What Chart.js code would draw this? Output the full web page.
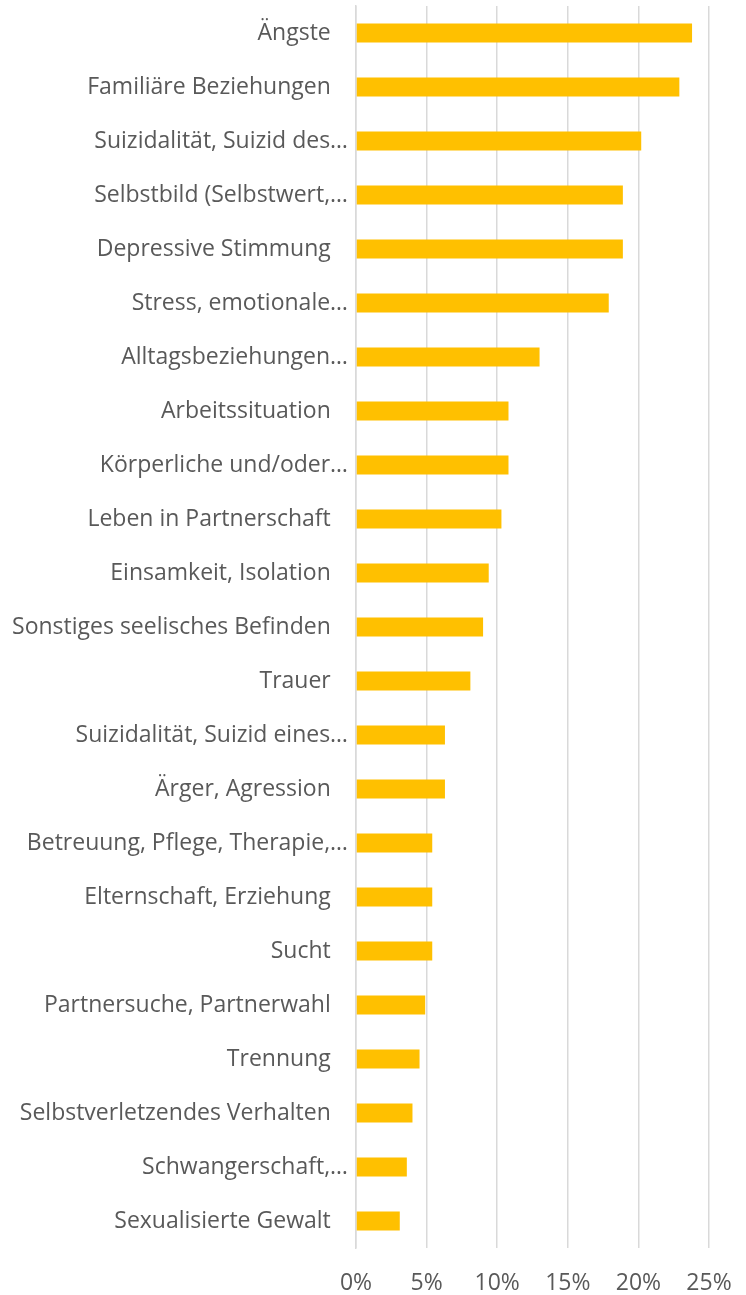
<!DOCTYPE html>
<html>
<head>
<meta charset="utf-8">
<script src="https://cdn.jsdelivr.net/npm/chart.js@4"></script>
<style>
  html, body { margin: 0; padding: 0; background: #ffffff; }
  #wrap { width: 746px; height: 1295px; position: relative; }
</style>
</head>
<body>
<div id="wrap"><canvas id="topics-chart"></canvas></div>
<script>
// Categories (top to bottom) and shares in percent
const categories = [
    'Ängste',
    'Familiäre Beziehungen',
    'Suizidalität, Suizid des…',
    'Selbstbild (Selbstwert,…',
    'Depressive Stimmung',
    'Stress, emotionale…',
    'Alltagsbeziehungen…',
    'Arbeitssituation',
    'Körperliche und/oder…',
    'Leben in Partnerschaft',
    'Einsamkeit, Isolation',
    'Sonstiges seelisches Befinden',
    'Trauer',
    'Suizidalität, Suizid eines…',
    'Ärger, Agression',
    'Betreuung, Pflege, Therapie,…',
    'Elternschaft, Erziehung',
    'Sucht',
    'Partnersuche, Partnerwahl',
    'Trennung',
    'Selbstverletzendes Verhalten',
    'Schwangerschaft,…',
    'Sexualisierte Gewalt'
];
const shares = [23.8, 22.9, 20.2, 18.9, 18.9, 17.9, 13.0, 10.8, 10.8, 10.3, 9.4, 9.0, 8.1,
    6.3, 6.3, 5.4, 5.4, 5.4, 4.9, 4.5, 4.0, 3.6, 3.1];
const xTicks = [0, 5, 10, 15, 20, 25];

const textColor = '#595959';
const gridColor = '#D9D9D9';
const fontFamily = '"Open Sans", "Noto Sans", sans-serif';

var ctx = document.getElementById('topics-chart').getContext('2d');

var chart = new Chart(ctx, {
    type: 'bar',
    data: {
        labels: categories,
        datasets: [{
            data: shares,
            backgroundColor: '#FFC000',
            borderWidth: 0,
            barPercentage: 0.7,
            categoryPercentage: 0.5
        }]
    },
    options: {
        indexAxis: 'y',
        responsive: true,
        maintainAspectRatio: false,
        animation: false,
        layout: { padding: { top: 6, right: 37, bottom: 0, left: 0 } },
        plugins: {
            legend: { display: false },
            tooltip: { enabled: false }
        },
        scales: {
            x: {
                min: 0,
                max: 25,
                afterBuildTicks: function (scale) {
                    scale.ticks = xTicks.map(v => ({ value: v }));
                },
                afterFit: function (scale) {
                    scale.height = 47;
                    scale.paddingLeft = 0;
                    scale.paddingRight = 0;
                },
                grid: {
                    color: gridColor,
                    lineWidth: 1.5,
                    drawTicks: false
                },
                border: { display: false },
                ticks: {
                    color: textColor,
                    padding: 22,
                    font: { family: fontFamily, size: 23 },
                    callback: function (value) {
                        return value + '%';
                    }
                }
            },
            y: {
                afterFit: function (scale) {
                    scale.width = 356;
                    scale.paddingTop = 0;
                    scale.paddingBottom = 0;
                },
                grid: { display: false, drawTicks: false },
                border: { display: true, color: gridColor, width: 1.5 },
                ticks: {
                    color: textColor,
                    padding: 8,
                    autoSkip: false,
                    font: { family: fontFamily, size: 23 },
                    callback: function (value) {
                        // full labels sit a bit further from the axis than truncated ones
                        const label = this.getLabelForValue(value);
                        return label.endsWith('…') ? label : label + '\u2002\u2005';
                    }
                }
            }
        }
    }
});
</script>
</body>
</html>
